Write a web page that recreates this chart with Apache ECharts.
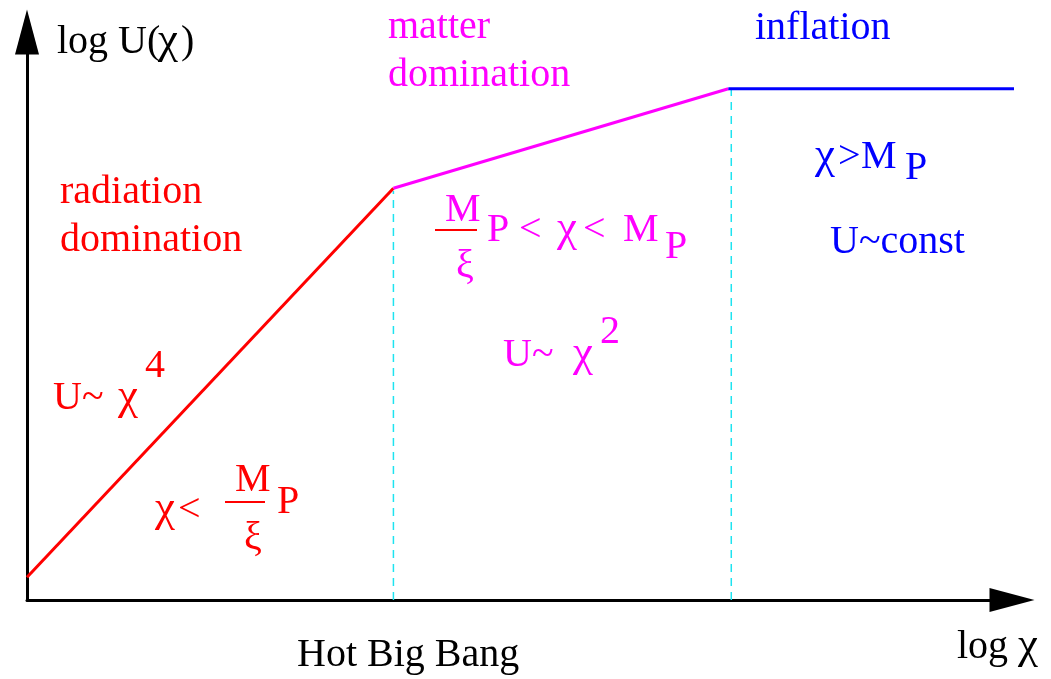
<!DOCTYPE html>
<html><head><meta charset="utf-8">
<script src="https://cdn.jsdelivr.net/npm/echarts@6/dist/echarts.min.js"></script>
<style>html,body{margin:0;padding:0;background:#fff}#c{width:1051px;height:679px}</style>
</head><body><div id="c"></div>
<script>
// Data (log chi, log U) in arbitrary units
const radiationX = [0, 3.72];
const radiationY = [0.4, 7.25];
const matterX = [3.72, 7.12];
const matterY = [7.25, 9.0];
const inflationX = [7.12, 10.05];
const inflationY = [9.0, 9.0];
const boundary1X = [3.72, 3.72];
const boundary1Y = [0, 7.2];
const boundary2X = [7.15, 7.15];
const boundary2Y = [0, 9.0];

const FONT = 'Liberation Serif';
const RED = '#ff0000', MAG = '#ff00ff', BLUE = '#0000ff', BLACK = '#000000';

function pts(xs, ys) { return xs.map((x, i) => [x, ys[i]]); }
function T(s, x, base, color, align, size) {
  size = size || 40;
  return { type: 'text', x: x, y: base - 0.23 * size, silent: true,
    style: { text: s, fill: color, font: size + 'px "' + FONT + '"', textAlign: align || 'left', textVerticalAlign: 'middle', verticalAlign: 'middle' } };
}
function C(x, base, color) { return T('χ', x, base, color, 'left', 45); }
function bar(x1, x2, y, color) {
  return { type: 'line', shape: { x1: x1, y1: y, x2: x2, y2: y }, style: { stroke: color, lineWidth: 2 }, silent: true };
}

const chart = echarts.init(document.getElementById('c'));
const axisCommon = {
  type: 'value', min: 0, max: 10,
  axisTick: { show: false }, axisLabel: { show: false }, splitLine: { show: false },
  axisLine: { show: true, symbol: ['none', 'triangle'], symbolSize: [24, 45], lineStyle: { color: BLACK, width: 3 } }
};
const lineS = (data, color) => ({ type: 'line', data: data, symbol: 'none', clip: false, lineStyle: { color: color, width: 3 }, z: 3 });
const dashS = (data) => ({ type: 'line', data: data, symbol: 'none', clip: false, lineStyle: { color: '#1ee3f0', width: 1.5, type: [8, 6] }, z: 2 });

chart.setOption({
  animation: false,
  backgroundColor: '#ffffff',
  grid: { left: 27, right: 39, top: 32, bottom: 79 },
  xAxis: Object.assign({}, axisCommon),
  yAxis: Object.assign({}, axisCommon),
  series: [
    dashS(pts(boundary1X, boundary1Y)),
    dashS(pts(boundary2X, boundary2Y)),
    lineS(pts(radiationX, radiationY), RED),
    lineS(pts(matterX, matterY), MAG),
    lineS(pts(inflationX, inflationY), BLUE)
  ],
  graphic: [
    T('log U(', 57, 52, BLACK),
    C(158, 52, BLACK),
    T(')', 181, 52, BLACK),
    T('log', 957, 657, BLACK),
    C(1018, 657, BLACK),
    T('Hot Big Bang', 297, 665, BLACK),
    T('matter', 388, 37, MAG),
    T('domination', 388, 85, MAG),
    T('inflation', 755, 38, BLUE),
    T('radiation', 60, 202, RED),
    T('domination', 60, 250, RED),
    // red region formulas
    T('U~', 53, 408, RED),
    C(118, 408, RED),
    T('4', 145, 376, RED),
    C(155, 520, RED),
    T('<', 178, 520, RED),
    T('M', 235, 490, RED),
    bar(225, 265, 502, RED),
    T('ξ', 253, 548, RED, 'center'),
    T('P', 277, 512, RED),
    // magenta region formulas
    T('M', 445, 220, MAG),
    bar(435, 477, 230, RED),
    T('ξ', 465, 276, MAG, 'center'),
    T('P', 487, 240, MAG),
    T('<', 519, 240, MAG),
    C(557, 240, MAG),
    T('<', 583, 240, MAG),
    T('M', 623, 240, MAG),
    T('P', 665, 257, MAG),
    T('U~', 503, 365, MAG),
    C(573, 365, MAG),
    T('2', 600, 342, MAG),
    // blue region formulas
    C(815, 167, BLUE),
    T('>', 838, 167, BLUE),
    T('M', 861, 167, BLUE),
    T('P', 905, 178, BLUE),
    T('U~const', 830, 252, BLUE)
  ]
});
</script></body></html>
